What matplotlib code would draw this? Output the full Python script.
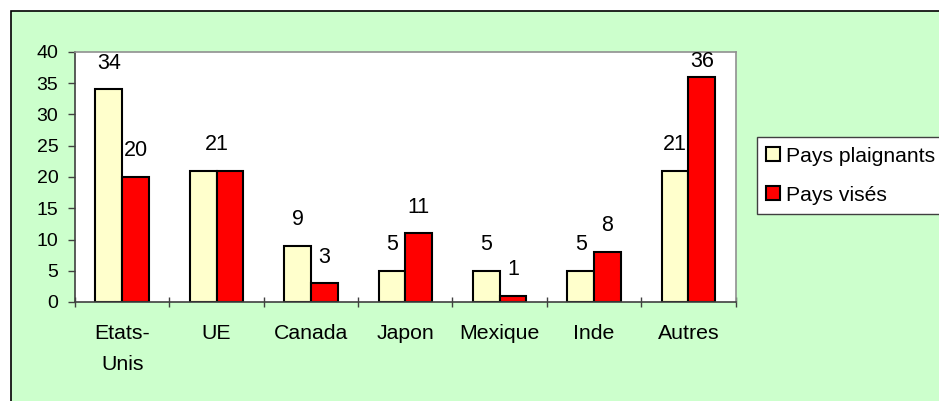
import numpy as np
import matplotlib.pyplot as plt
from matplotlib.patches import Rectangle

plt.rcParams['font.family'] = ['Liberation Sans', 'DejaVu Sans']

categories = ['Etats-\nUnis', 'UE', 'Canada', 'Japon', 'Mexique', 'Inde', 'Autres']
plaignants = [34, 21, 9, 5, 5, 5, 21]
vises = [20, 21, 3, 11, 1, 8, 36]
series_names = ['Pays plaignants', 'Pays visés']
yticks = [0, 5, 10, 15, 20, 25, 30, 35, 40]

W, H = 939, 401
fig = plt.figure(figsize=(W / 100, H / 100), dpi=100)
fig.patch.set_facecolor('white')

# fond vert du graphique
fig.patches.append(Rectangle((11 / W, -0.1), 1.0, 1.1 - 11 / H, transform=fig.transFigure,
                             facecolor='#CCFFCC', edgecolor='black', lw=1.2, zorder=-1))

ax = fig.add_axes([75 / W, (H - 302) / H, (735.5 - 75) / W, (302 - 52) / H])
ax.set_facecolor('white')

x = np.arange(len(categories))
bw = 0.283
b1 = ax.bar(x - bw / 2, plaignants, bw, color='#FFFFCC', edgecolor='black', lw=1.5,
            label=series_names[0])
b2 = ax.bar(x + bw / 2, vises, bw, color='#FF0000', edgecolor='black', lw=1.5,
            label=series_names[1])

ax.set_xlim(-0.5, len(categories) - 0.5)
ax.set_ylim(0, 40)
ax.set_yticks(yticks)

# étiquettes de valeurs
px_per_unit = 250 / 40
for i in range(len(categories)):
    pairs = [(x[i] - bw / 2, plaignants[i]), (x[i] + bw / 2, vises[i])]
    if plaignants[i] == vises[i]:
        pairs = [(x[i], plaignants[i])]
    for xp, v in pairs:
        yc = v + 26 / px_per_unit
        yc = min(yc, 40 - 9.5 / px_per_unit)
        ax.text(xp, yc, str(v), ha='center', va='center', fontsize=15.5)

ax.set_xticks(x)
ax.set_xticklabels(categories, fontsize=15.3, linespacing=1.8)
ax.set_xticks(np.arange(-0.5, len(categories)), minor=True)
ax.tick_params(axis='x', which='major', length=0, pad=16)
ax.tick_params(axis='x', which='minor', direction='inout', length=7, width=1, color='#404040')
ax.tick_params(axis='y', direction='out', length=5, width=1, color='#404040',
               labelsize=14, pad=7)

for s in ['left', 'bottom']:
    ax.spines[s].set_color('#404040')
    ax.spines[s].set_linewidth(1.2)
for s in ['top', 'right']:
    ax.spines[s].set_color('#909090')
    ax.spines[s].set_linewidth(1.2)

# légende, coupée par le bord droit comme dans l'original
leg = fig.legend(handles=[b1, b2], labels=series_names, loc='upper left',
                 bbox_to_anchor=(756.7 / W, 1 - 137.3 / H - 0.5, 215 / W, 0.5),
                 mode='expand', borderaxespad=0,
                 fontsize=15.2, handlelength=0.65, handleheight=0.65, handletextpad=0.3,
                 labelspacing=0.95, borderpad=0.45, fancybox=False, framealpha=1,
                 edgecolor='#404040')
leg.get_frame().set_linewidth(1.0)

fig.savefig('out.png', dpi=100)
